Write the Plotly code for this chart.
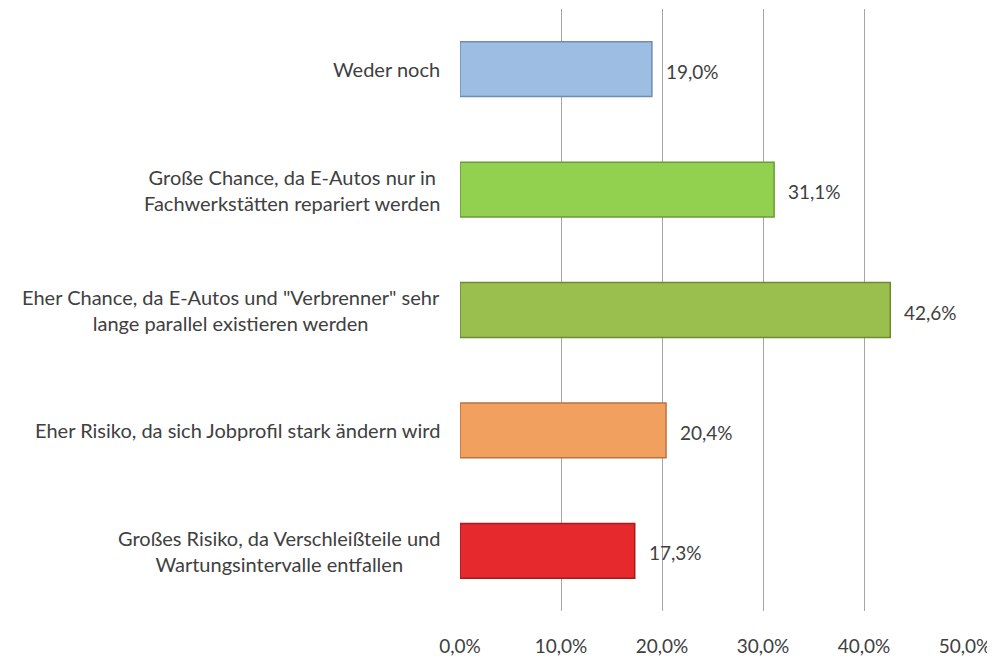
import plotly.graph_objects as go

categories = [
    "Großes Risiko, da Verschleißteile und<br>Wartungsintervalle entfallen",
    "Eher Risiko, da sich Jobprofil stark ändern wird",
    "Eher Chance, da E-Autos und \"Verbrenner\" sehr<br>lange parallel existieren werden",
    "Große Chance, da E-Autos nur in<br>Fachwerkstätten repariert werden",
    "Weder noch",
]
values = [17.3, 20.4, 42.6, 31.1, 19.0]
fill_colors = ["#E5292D", "#F2A060", "#9BBF4E", "#92D050", "#9DBDE3"]
line_colors = ["#A31D1F", "#B8733F", "#6E8A35", "#6A9A3A", "#6F8DB3"]
tick_vals = [0, 10, 20, 30, 40, 50]
tick_text = ["0,0%", "10,0%", "20,0%", "30,0%", "40,0%", "50,0%"]

FONT = "Lato, 'Open Sans', sans-serif"
TXT = "#404040"

fig = go.Figure()
fig.add_trace(go.Bar(
    x=values,
    y=categories,
    orientation="h",
    width=0.455,
    marker=dict(color=fill_colors, line=dict(color=line_colors, width=1.5)),
    hoverinfo="skip",
))

# value labels
for c, v in zip(categories, values):
    fig.add_annotation(
        x=v, xref="x", xshift=12, xanchor="left",
        y=c, yref="y", yanchor="middle", yshift=-2,
        text=f"{v:.1f}%".replace(".", ","), showarrow=False,
        font=dict(family=FONT, size=19, color=TXT),
    )

# category labels (centered multi-line)
for c in categories:
    fig.add_annotation(
        x=0, xref="paper", xshift=-18, xanchor="right",
        y=c, yref="y", yanchor="middle",
        text=c, align="center", showarrow=False,
        font=dict(family=FONT, size=20, color=TXT),
    )

fig.update_layout(
    width=995, height=659,
    margin=dict(l=452, r=38, t=1, b=56),
    paper_bgcolor="white", plot_bgcolor="white",
    showlegend=False,
    font=dict(family=FONT, size=19, color=TXT),
)
fig.update_xaxes(
    range=[0, 50], tickvals=tick_vals, ticktext=tick_text,
    showgrid=True, gridcolor="#A6A6A6", gridwidth=1,
    zeroline=False, showline=False,
    ticks="", ticklabelstandoff=22,
    tickfont=dict(family=FONT, size=19, color=TXT),
)
fig.update_yaxes(
    categoryorder="array", categoryarray=categories,
    showticklabels=False, showgrid=False, zeroline=False, showline=False,
    range=[-0.5, 4.5],
)
fig.write_html("out.html")
